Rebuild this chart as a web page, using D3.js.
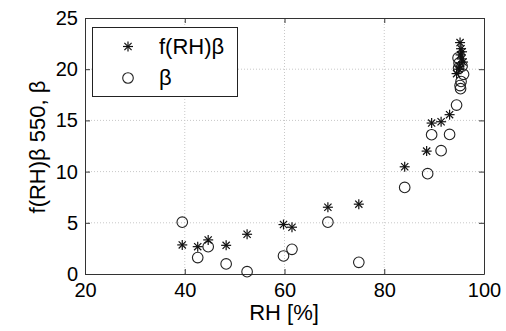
<!DOCTYPE html>
<html>
<head>
<meta charset="utf-8">
<script src="https://cdn.jsdelivr.net/npm/d3@7"></script>
<style>
  html, body { margin: 0; padding: 0; background: #fff; }
  svg { display: block; font-family: "Liberation Sans", Arial, sans-serif; }
</style>
</head>
<body>
<svg id="chart" width="506" height="331"></svg>
<script>
// Relative humidity (%) and scattering values for each sample
const rhStar = [39.5, 42.6, 44.7, 48.3, 52.5, 59.8, 61.5, 68.7, 74.9, 84.1, 88.5, 89.5, 91.4, 93.1, 94.5,
                95.2, 95.4, 95.6, 95.3, 95.5, 95.8, 95.1, 95.0];
const fRHBeta = [2.84, 2.67, 3.33, 2.8, 3.88, 4.83, 4.57, 6.52, 6.82, 10.47, 12.0, 14.74, 14.87, 15.56, 19.57,
                 22.6, 22.0, 21.7, 21.4, 21.0, 20.7, 20.3, 20.0];
const rhCircle = [39.5, 42.6, 44.7, 48.3, 52.5, 59.8, 61.5, 68.7, 74.9, 84.1, 88.7, 89.5, 91.4, 93.1, 94.5,
                  94.8, 95.0, 94.9, 95.6, 95.9, 95.4, 95.2, 95.3];
const beta = [5.06, 1.6, 2.67, 0.98, 0.23, 1.76, 2.41, 5.06, 1.14, 8.45, 9.8, 13.6, 12.04, 13.63, 16.5,
              21.1, 20.6, 20.1, 20.3, 19.5, 18.8, 18.4, 18.1];

const xTicks = [20, 40, 60, 80, 100];
const yTicks = [0, 5, 10, 15, 20, 25];
const legendLabels = ["f(RH)\u03b2", "\u03b2"];

(function () {
const svg = d3.select("#chart");
const pL = 85, pR = 484, pT = 18, pB = 274;

const x = d3.scaleLinear().domain([20, 100]).range([pL, pR]);
const y = d3.scaleLinear().domain([0, 25]).range([pB, pT]);

// dotted grid
const grid = svg.append("g");
grid.selectAll("line.gx").data(xTicks.slice(1, -1)).join("line")
  .attr("x1", d => x(d)).attr("x2", d => x(d)).attr("y1", pT).attr("y2", pB)
  .attr("stroke", "#c8c8c8").attr("stroke-width", 1).attr("stroke-dasharray", "1,2");
grid.selectAll("line.gy").data(yTicks.slice(1, -1)).join("line")
  .attr("x1", pL).attr("x2", pR).attr("y1", d => y(d)).attr("y2", d => y(d))
  .attr("stroke", "#c8c8c8").attr("stroke-width", 1).attr("stroke-dasharray", "1,2");

// axes, ticks pointing inwards on all four sides
const axisColor = "#333";
function styleAxis(g) {
  g.select(".domain").attr("stroke", axisColor);
  g.selectAll(".tick line").attr("stroke", axisColor);
  g.selectAll(".tick text").attr("fill", "#000").style("font-size", "20px")
   .style("font-family", "'Liberation Sans', Arial, sans-serif");
}
svg.append("g").attr("transform", `translate(0,${pB})`)
  .call(d3.axisBottom(x).tickValues(xTicks).tickSizeInner(-5).tickSizeOuter(0).tickPadding(9))
  .call(styleAxis);
svg.append("g").attr("transform", `translate(${pL},0)`)
  .call(d3.axisLeft(y).tickValues(yTicks).tickSizeInner(-5).tickSizeOuter(0).tickPadding(7))
  .call(styleAxis);
svg.append("g").attr("transform", `translate(0,${pT})`)
  .call(d3.axisTop(x).tickValues(xTicks).tickSizeInner(-5).tickSizeOuter(0).tickFormat(""))
  .call(styleAxis);
svg.append("g").attr("transform", `translate(${pR},0)`)
  .call(d3.axisRight(y).tickValues(yTicks).tickSizeInner(-5).tickSizeOuter(0).tickFormat(""))
  .call(styleAxis);

// marker shapes
function star(g, cx, cy, r) {
  const s = g.append("g").attr("transform", `translate(${cx},${cy})`)
    .attr("stroke", "#111").attr("stroke-width", 1.2);
  s.append("line").attr("x1", -r).attr("x2", r).attr("y1", 0).attr("y2", 0);
  s.append("line").attr("x1", 0).attr("x2", 0).attr("y1", -r).attr("y2", r);
  const d = r * 0.72;
  s.append("line").attr("x1", -d).attr("x2", d).attr("y1", -d).attr("y2", d);
  s.append("line").attr("x1", -d).attr("x2", d).attr("y1", d).attr("y2", -d);
}

const pts = svg.append("g");
rhCircle.forEach((v, i) => {
  pts.append("circle").attr("cx", x(v)).attr("cy", y(beta[i])).attr("r", 5.3)
    .attr("fill", "none").attr("stroke", "#222").attr("stroke-width", 1.1);
});
rhStar.forEach((v, i) => star(pts, x(v), y(fRHBeta[i]), 5));

// legend
const lg = svg.append("g");
lg.append("rect").attr("x", 92.5).attr("y", 27.5).attr("width", 145).attr("height", 69)
  .attr("fill", "#fff").attr("stroke", "#222").attr("stroke-width", 1);
star(lg, 128, 46.5, 5);
lg.append("circle").attr("cx", 128).attr("cy", 78).attr("r", 5.3)
  .attr("fill", "none").attr("stroke", "#222").attr("stroke-width", 1.1);
lg.selectAll("text").data(legendLabels).join("text")
  .attr("x", 159).attr("y", (d, i) => 54 + i * 31)
  .style("font-size", "22px").text(d => d);

// axis titles
svg.append("text").attr("x", 284).attr("y", 320)
  .attr("text-anchor", "middle").style("font-size", "22px").text("RH [%]");
svg.append("text").attr("transform", `translate(45,147) rotate(-90)`)
  .attr("text-anchor", "middle").style("font-size", "22px").text("f(RH)\u03b2 550, \u03b2");
})();
</script>
</body>
</html>
